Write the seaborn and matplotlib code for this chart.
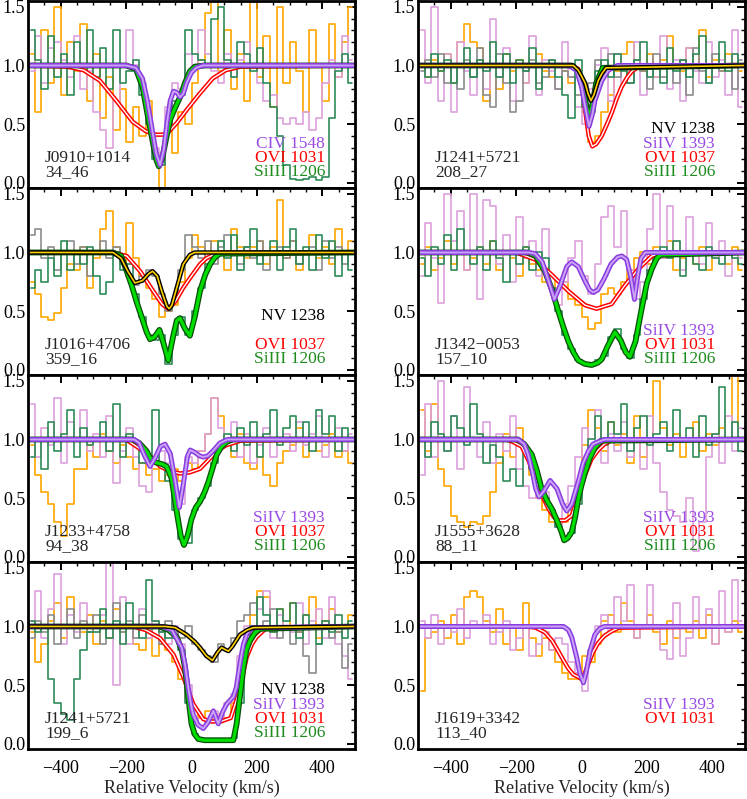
import numpy as np
import matplotlib
matplotlib.use("Agg")
import matplotlib.pyplot as plt
from matplotlib.ticker import MultipleLocator
import seaborn as sns

# velocity bin centres of the rebinned spectra (km/s)
vel_bins = np.arange(-490, 500, 20)

# ---------------- observed spectra (normalised flux per bin) ----------------
# J0910+1014  34_46
p1_ovi = [1.10, 0.60, 1.30, 0.85, 1.50, 0.75, 1.20, 0.95, 1.35, 0.70,
          1.10, 0.55, 0.90, 0.45, 0.80, 0.35, 0.65, 0.40, 0.70, 0.25,
          -0.05, 0.45, 0.25, 0.60, 0.50, 0.85, 1.05, 1.45, 1.55, 0.95,
          1.30, 0.80, 1.10, 0.70, 1.60, 0.90, 1.25, 0.65, 1.50, 0.85,
          1.20, 0.95, 0.60, 1.30, 1.00, 0.70, 1.35, 0.90, 1.20, 1.50]
p1_civ = [0.95, 1.25, 0.85, 1.15, 1.20, 1.05, 0.90, 1.25, 0.80, 0.95,
          0.60, 0.45, 0.30, 0.70, 1.00, 1.30, 1.00, 0.85, 0.55, 0.30,
          0.15, 0.65, 0.85, 0.80, 1.10, 1.00, 1.30, 1.10, 0.95, 0.85,
          1.10, 0.90, 1.05, 1.20, 1.00, 0.85, 0.70, 0.75, 0.55, 0.50,
          0.55, 0.50, 0.60, 0.45, 0.55, 0.85, 1.05, 0.90, 1.25, 1.05]
p1_siiii = [1.30, 1.05, 0.80, 1.25, 0.90, 1.10, 0.75, 1.20, 0.95, 1.30,
            0.90, 1.15, 0.80, 1.30, 0.85, 0.95, 1.05, 0.75, 0.50, 0.20,
            0.15, 0.45, 0.70, 0.75, 1.30, 1.10, 1.05, 1.00, 1.40, 1.50,
            1.05, 0.90, 1.20, 1.10, 0.95, 1.15, 0.85, 0.65, 0.40, 0.15,
            0.03, 0.02, 0.03, 0.05, 0.02, 0.05, 0.55, 0.95, 1.10, 0.85]

# J1241+5721  208_27
p2_nv = [0.95, 1.05, 0.90, 1.10, 0.85, 1.00, 0.80, 1.05, 0.90, 1.15,
         0.75, 0.65, 1.10, 0.85, 0.60, 0.70, 0.95, 1.05, 0.85, 0.90,
         1.05, 0.80, 0.95, 0.90, 0.75, 0.70, 0.85, 1.05, 0.95, 1.10,
         0.90, 1.00, 0.85, 1.05, 0.95, 0.80, 1.10, 0.90, 1.00, 0.85,
         1.05, 0.75, 1.15, 0.95, 0.85, 1.10, 0.95, 1.00, 0.80, 1.05]
p2_siiv = [1.30, 0.85, 1.50, 0.70, 1.10, 0.60, 1.20, 0.95, 0.75, 1.05,
           0.80, 1.40, 0.90, 1.15, 0.70, 1.00, 0.85, 1.25, 0.75, 1.05,
           0.95, 0.80, 1.20, 0.90, 0.65, 0.50, 0.80, 1.00, 1.15, 0.70,
           1.10, 0.85, 0.95, 1.20, 0.75, 1.00, 0.90, 1.25, 0.80, 1.05,
           0.70, 1.15, 0.95, 0.85, 1.20, 0.90, 1.05, 0.75, 1.30, 0.65]
p2_ovi = [1.00, 0.90, 1.05, 0.95, 1.10, 0.85, 1.20, 1.35, 1.20, 1.15,
          0.70, 1.00, 0.80, 1.10, 0.95, 1.05, 0.85, 1.00, 1.10, 0.95,
          0.90, 1.00, 0.95, 0.85, 0.90, 0.60, 0.35, 0.40, 0.60, 0.75,
          0.95, 1.10, 1.20, 1.00, 0.95, 1.10, 0.90, 1.05, 1.25, 1.00,
          0.95, 1.15, 1.00, 1.30, 0.90, 1.05, 0.95, 1.10, 1.00, 0.95]
p2_siiii = [1.00, 0.90, 1.10, 0.95, 1.05, 0.85, 1.00, 1.15, 0.90, 1.05,
            0.95, 1.20, 0.90, 1.10, 0.85, 1.05, 0.95, 1.15, 0.80, 1.00,
            1.05, 0.90, 0.75, 0.55, 1.05, 0.65, 0.60, 0.95, 1.05, 0.90,
            1.10, 0.95, 0.85, 1.05, 1.20, 0.90, 1.00, 0.85, 1.15, 0.95,
            1.05, 0.90, 1.10, 1.25, 0.85, 1.00, 1.20, 0.95, 1.10, 1.00]

# J1016+4706  359_16
p3_nv = [1.15, 1.20, 0.95, 1.05, 0.85, 1.00, 1.10, 0.90, 1.05, 0.80,
         1.00, 1.10, 0.95, 1.05, 0.90, 0.80, 0.72, 0.80, 0.85, 0.80,
         0.65, 0.50, 0.60, 0.85, 1.15, 1.05, 0.95, 1.10, 0.90, 1.05,
         1.15, 1.00, 0.90, 1.05, 0.95, 1.10, 0.85, 1.00, 1.05, 0.95,
         1.10, 0.90, 1.00, 1.05, 0.85, 1.10, 0.95, 1.05, 0.90, 1.00]
p3_ovi = [0.75, 0.65, 0.45, 0.42, 0.48, 0.70, 0.90, 0.85, 1.05, 0.70,
          0.95, 1.20, 1.35, 1.05, 0.90, 1.25, 0.95, 0.80, 0.70, 0.60,
          0.45, 0.50, 0.55, 0.75, 0.95, 1.15, 1.05, 0.90, 1.10, 1.00,
          0.85, 1.20, 1.05, 0.95, 1.05, 1.10, 0.90, 1.05, 1.45, 0.95,
          1.10, 0.85, 1.00, 1.15, 0.95, 1.05, 0.90, 1.20, 1.00, 1.10]
p3_siiii = [0.70, 0.85, 0.75, 0.95, 0.80, 1.10, 0.85, 1.00, 0.90, 1.05,
            0.80, 0.65, 0.75, 1.00, 0.85, 0.90, 0.65, 0.45, 0.30, 0.25,
            0.30, 0.05, 0.30, 0.45, 0.30, 0.50, 0.70, 0.90, 1.00, 1.10,
            0.95, 1.15, 0.85, 1.05, 1.20, 0.90, 1.00, 1.10, 0.85, 1.05,
            1.20, 0.90, 1.05, 0.85, 1.15, 0.95, 1.10, 0.80, 1.00, 0.85]

# J1342-0053  157_10
p4_siiv = [0.80, 1.25, 0.95, 0.57, 1.50, 1.10, 1.35, 0.85, 1.50, 0.60,
           1.45, 1.40, 0.90, 1.15, 0.75, 1.30, 0.95, 1.10, 0.80, 1.20,
           0.70, 0.55, 0.75, 0.95, 1.10, 0.80, 0.65, 0.90, 1.30, 1.40,
           1.05, 1.35, 0.85, 0.60, 0.75, 1.20, 1.50, 0.95, 1.40, 1.10,
           0.85, 1.30, 1.00, 0.90, 1.25, 0.95, 1.10, 0.80, 1.00, 0.95]
p4_ovi = [0.90, 1.05, 0.85, 0.95, 1.10, 0.90, 1.00, 0.85, 0.95, 1.05,
          0.90, 1.10, 0.85, 1.00, 0.95, 0.80, 1.05, 0.90, 0.85, 0.75,
          0.80, 0.70, 0.75, 0.60, 0.55, 0.45, 0.35, 0.40, 0.65, 0.70,
          0.65, 0.75, 0.85, 0.95, 1.00, 0.90, 1.05, 0.95, 1.10, 0.85,
          0.95, 1.00, 0.90, 1.05, 0.85, 0.95, 1.00, 0.90, 1.05, 0.85]
p4_siiii = [0.95, 0.80, 1.05, 0.90, 1.15, 0.85, 1.20, 1.00, 0.90, 1.05,
            0.85, 1.10, 0.95, 0.75, 1.00, 0.90, 1.05, 0.85, 1.00, 0.95,
            0.70, 0.50, 0.30, 0.18, 0.08, 0.05, 0.03, 0.08, 0.12, 0.28,
            0.35, 0.18, 0.10, 0.30, 0.60, 0.85, 0.95, 1.05, 0.95, 1.10,
            0.80, 1.00, 0.90, 0.85, 1.05, 0.95, 0.90, 1.00, 0.95, 0.90]

# J1233+4758  94_38
p5_siiv = [1.30, 0.85, 1.10, 0.95, 1.35, 0.80, 1.15, 1.00, 1.25, 0.90,
           1.05, 0.85, 1.20, 0.63, 0.90, 1.10, 0.85, 0.60, 0.55, 0.80,
           0.90, 0.80, 0.50, 0.45, 0.85, 0.80, 0.90, 1.05, 1.35, 1.10,
           0.95, 1.15, 0.85, 1.05, 0.80, 0.95, 1.10, 0.85, 1.00, 1.05,
           0.90, 1.15, 0.95, 1.05, 1.20, 0.85, 1.00, 1.10, 0.90, 1.05]
p5_ovi = [0.95, 0.70, 0.55, 0.45, 0.30, 0.18, 0.45, 0.75, 0.75, 0.95,
          0.85, 1.05, 0.90, 0.80, 0.95, 0.85, 0.75, 0.80, 0.70, 0.75,
          0.65, 0.70, 0.75, 0.65, 0.80, 0.75, 0.90, 1.05, 1.35, 1.20,
          0.95, 0.85, 1.05, 0.80, 0.75, 0.85, 0.70, 0.60, 0.80, 0.90,
          0.95, 1.10, 0.85, 1.00, 0.90, 0.95, 1.05, 0.85, 0.90, 0.80]
p5_siiii = [0.85, 1.00, 0.75, 1.15, 0.90, 1.05, 1.25, 0.85, 1.10, 0.95,
            1.00, 1.15, 0.90, 1.30, 0.85, 1.05, 0.95, 0.80, 0.85, 1.25,
            0.80, 0.65, 0.40, 0.15, 0.12, 0.40, 0.50, 0.60, 0.80, 0.95,
            1.05, 0.90, 1.10, 0.95, 1.15, 0.85, 1.05, 1.25, 0.95, 1.10,
            1.20, 1.00, 1.15, 0.90, 1.25, 1.05, 1.20, 0.90, 1.10, 1.00]

# J1555+3628  88_11
p6_siiv = [0.70, 1.30, 0.85, 1.50, 0.90, 1.20, 0.75, 1.45, 1.00, 0.85,
           1.15, 0.80, 1.05, 0.90, 1.20, 0.75, 0.60, 0.50, 0.65, 0.55,
           0.40, 0.25, 0.45, 0.60, 0.85, 1.10, 0.90, 1.25, 0.80, 1.05,
           0.90, 1.15, 0.85, 1.00, 0.75, 1.20, 0.80, 0.55, 0.40, 0.35,
           0.30, 0.50, 0.05, 0.30, 0.85, 1.05, 0.80, 1.20, 0.90, 1.10]
p6_ovi = [1.25, 0.90, 1.30, 0.75, 0.60, 0.35, 0.30, 0.25, 0.30, 0.28,
          0.35, 0.55, 0.80, 1.05, 0.85, 1.10, 0.90, 0.70, 0.50, 0.40,
          0.30, 0.28, 0.30, 0.40, 0.60, 0.95, 1.25, 1.10, 0.90, 1.15,
          0.95, 1.05, 0.80, 1.20, 0.85, 1.00, 1.50, 1.10, 0.95, 1.05,
          0.85, 1.00, 1.15, 0.90, 1.05, 0.95, 1.10, 1.00, 1.55, 1.00]
p6_siiii = [1.00, 0.85, 1.15, 1.05, 0.90, 1.20, 1.10, 0.95, 1.30, 1.05,
            0.80, 0.95, 0.85, 0.65, 0.75, 0.60, 0.90, 0.75, 0.55, 0.50,
            0.40, 0.25, 0.15, 0.20, 0.45, 0.75, 1.00, 1.20, 0.95, 1.15,
            1.05, 1.30, 0.90, 1.10, 1.20, 0.95, 1.05, 1.15, 0.90, 1.25,
            1.00, 1.10, 0.85, 1.20, 0.95, 1.05, 1.45, 1.00, 1.15, 0.90]

# J1241+5721  199_6
p7_nv = [0.90, 1.05, 0.95, 1.10, 0.85, 1.00, 1.15, 0.90, 1.05, 0.95,
         1.10, 0.85, 1.00, 1.20, 0.95, 1.05, 0.90, 1.10, 0.95, 1.00,
         0.85, 1.05, 0.95, 0.90, 1.00, 0.85, 0.80, 0.75, 0.70, 0.85,
         0.80, 0.90, 1.05, 1.10, 1.20, 0.95, 1.05, 1.15, 0.90, 1.00,
         0.85, 0.95, 0.75, 0.60, 0.85, 1.00, 0.90, 0.95, 0.65, 0.85]
p7_siiv = [1.05, 1.30, 0.90, 1.15, 1.45, 0.85, 1.10, 0.95, 1.20, 1.00,
           1.00, 1.10, 1.55, 0.50, 1.25, 0.85, 1.00, 1.15, 0.90, 1.05,
           0.95, 0.85, 1.00, 0.85, 0.50, 0.22, 0.15, 0.20, 0.28, 0.20,
           0.35, 0.42, 0.75, 1.00, 0.95, 1.15, 1.30, 0.90, 1.10, 1.00,
           0.95, 1.20, 0.85, 1.05, 1.15, 0.90, 1.25, 0.85, 0.75, 0.55]
p7_ovi = [0.95, 0.70, 0.85, 1.05, 1.20, 0.90, 1.25, 1.00, 0.95, 1.10,
          0.85, 1.05, 0.90, 1.15, 0.95, 1.00, 0.85, 0.80, 0.90, 0.75,
          0.85, 0.80, 0.70, 0.55, 0.40, 0.30, 0.22, 0.28, 0.20, 0.25,
          0.22, 0.35, 0.60, 0.85, 1.10, 1.30, 1.25, 0.95, 1.15, 1.00,
          1.20, 0.95, 1.10, 1.25, 0.90, 1.05, 1.15, 0.95, 1.00, 1.10]
p7_siiii = [1.05, 0.95, 1.00, 0.55, 0.35, 0.25, 0.20, 0.55, 0.80, 0.95,
            0.95, 1.15, 0.90, 1.05, 0.85, 1.20, 1.00, 0.90, 1.40, 1.05,
            0.95, 0.90, 0.90, 0.80, 0.35, 0.08, 0.03, 0.02, 0.03, 0.04,
            0.03, 0.05, 0.35, 0.80, 1.00, 1.25, 1.10, 0.95, 1.15, 1.05,
            1.20, 0.90, 1.10, 1.00, 0.85, 1.05, 0.95, 1.10, 0.90, 1.05]

# J1619+3342  113_40
p8_siiv = [1.05, 0.90, 1.10, 0.85, 1.00, 0.95, 1.15, 0.90, 1.05, 1.00,
           1.10, 0.85, 0.95, 1.05, 0.80, 0.90, 1.00, 0.75, 0.85, 0.95,
           0.80, 0.90, 0.85, 0.70, 0.60, 0.45, 0.80, 1.00, 1.10, 0.95,
           1.25, 1.05, 1.35, 0.90, 1.00, 1.35, 1.00, 0.80, 0.72, 1.20,
           0.75, 0.90, 1.25, 1.00, 1.15, 0.85, 1.30, 0.95, 1.40, 1.05]
p8_ovi = [0.45, 0.90, 0.95, 1.05, 0.90, 1.10, 0.85, 1.25, 1.30, 1.25,
          1.05, 0.95, 1.15, 0.85, 1.00, 0.80, 1.20, 0.90, 0.75, 0.90,
          0.80, 0.70, 0.60, 0.55, 0.55, 0.75, 0.70, 0.85, 1.05, 1.10,
          0.95, 1.20, 1.05, 0.90, 1.00, 1.10, 0.95, 0.85, 1.05, 0.90,
          1.00, 0.95, 1.05, 0.90, 1.10, 0.85, 1.00, 0.95, 1.05, 0.95]

# ---------------- model fits (velocity, flux nodes) ----------------
f1_ovi_v = [-500, -380, -330, -280, -230, -180, -140, -110, -90, -75, -45, -15, 25, 65, 105, 150, 500]
f1_ovi_f = [1.0, 0.99, 0.96, 0.87, 0.70, 0.52, 0.44, 0.41, 0.41, 0.42, 0.51, 0.62, 0.76, 0.89, 0.96, 0.99, 1.0]
f1_siiii_v = [-500, -200, -170, -150, -135, -120, -108, -100, -90, -78, -65, -50, -35, -20, -5, 10, 40, 500]
f1_siiii_f = [1.0, 1.0, 0.97, 0.82, 0.59, 0.37, 0.20, 0.14, 0.20, 0.37, 0.54, 0.64, 0.73, 0.85, 0.95, 0.99, 1.0, 1.0]
f1_civ_v = [-500, -200, -170, -150, -135, -120, -108, -96, -85, -75, -65, -55, -45, -35, -25, -15, 0, 15, 35, 500]
f1_civ_f = [1.0, 1.0, 0.98, 0.89, 0.70, 0.45, 0.25, 0.15, 0.28, 0.51, 0.70, 0.78, 0.77, 0.73, 0.76, 0.85, 0.94, 0.98, 1.0, 1.0]

f2_nv_v = [-500, -25, -10, 0, 11, 20, 29, 38, 51, 62, 75, 500]
f2_nv_f = [1.0, 1.0, 0.96, 0.91, 0.85, 0.76, 0.70, 0.75, 0.87, 0.93, 0.98, 1.0]
f2_siiv_v = [-500, -40, -15, 0, 11, 23, 33, 41, 62, 82, 110, 500]
f2_siiv_f = [1.0, 1.0, 0.96, 0.82, 0.65, 0.48, 0.58, 0.70, 0.87, 0.96, 1.0, 1.0]
f2_siiii_v = [-500, -30, -10, 5, 15, 23, 32, 45, 65, 500]
f2_siiii_f = [1.0, 1.0, 0.95, 0.80, 0.65, 0.55, 0.65, 0.85, 0.98, 1.0]
f2_ovi_v = [-500, -30, -10, 0, 11, 22, 33, 45, 62, 78, 93, 108, 123, 140, 154, 175, 500]
f2_ovi_f = [1.0, 1.0, 0.97, 0.88, 0.62, 0.40, 0.31, 0.33, 0.40, 0.50, 0.60, 0.72, 0.82, 0.90, 0.95, 0.99, 1.0]

f3_nv_v = [-500, -240, -215, -195, -173, -150, -130, -119, -105, -90, -75, -68, -60, -45, -25, -5, 10, 500]
f3_nv_f = [1.0, 1.0, 0.95, 0.84, 0.74, 0.76, 0.82, 0.84, 0.80, 0.66, 0.54, 0.52, 0.55, 0.70, 0.90, 0.98, 1.0, 1.0]
f3_siiii_v = [-500, -240, -215, -198, -183, -168, -150, -137, -127, -113, -98, -85, -71, -55, -45, -35,
              -20, -5, 10, 26, 42, 57, 72, 87, 500]
f3_siiii_f = [1.0, 1.0, 0.97, 0.84, 0.72, 0.58, 0.43, 0.32, 0.26, 0.28, 0.34, 0.22, 0.08, 0.30, 0.42, 0.44,
              0.35, 0.29, 0.45, 0.67, 0.81, 0.90, 0.96, 0.99, 1.0]
f3_ovi_v = [-500, -240, -198, -157, -117, -90, -71, -50, -25, 0, 26, 45, 67, 90, 500]
f3_ovi_f = [1.0, 1.0, 0.97, 0.84, 0.67, 0.56, 0.52, 0.58, 0.70, 0.80, 0.90, 0.95, 0.98, 1.0, 1.0]

f4_siiv_v = [-500, -160, -142, -120, -100, -83, -65, -45, -30, -10, 10, 25, 36, 50, 70, 90, 110, 123,
             138, 150, 162, 172, 182, 195, 500]
f4_siiv_f = [1.0, 1.0, 0.99, 0.92, 0.75, 0.60, 0.72, 0.88, 0.92, 0.88, 0.76, 0.68, 0.66, 0.68, 0.78, 0.90,
             0.96, 0.97, 0.94, 0.80, 0.60, 0.80, 0.95, 1.0, 1.0]
f4_ovi_v = [-500, -200, -142, -91, -40, 11, 46, 92, 133, 174, 215, 250, 500]
f4_ovi_f = [1.0, 1.0, 0.94, 0.81, 0.67, 0.55, 0.52, 0.56, 0.72, 0.86, 0.97, 1.0, 1.0]
f4_siiii_v = [-500, -165, -140, -112, -90, -71, -55, -40, -25, -10, 10, 31, 50, 62, 80, 102, 120, 135,
              148, 165, 184, 200, 215, 230, 242, 500]
f4_siiii_f = [1.0, 1.0, 0.97, 0.84, 0.68, 0.50, 0.36, 0.24, 0.15, 0.08, 0.05, 0.04, 0.06, 0.09, 0.20, 0.32,
              0.25, 0.15, 0.11, 0.24, 0.52, 0.74, 0.86, 0.95, 0.98, 1.0]

f5_siiv_v = [-500, -175, -160, -145, -127, -110, -95, -81, -65, -50, -37, -25, -12, -4, 10, 25, 36, 50,
             65, 87, 110, 500]
f5_siiv_f = [1.0, 1.0, 0.97, 0.87, 0.77, 0.85, 0.94, 0.96, 0.88, 0.65, 0.42, 0.62, 0.86, 0.91, 0.89, 0.86,
             0.85, 0.86, 0.90, 0.97, 1.0, 1.0]
f5_siiii_v = [-500, -180, -160, -137, -122, -105, -90, -76, -61, -45, -33, -23, -12, 0, 13, 26, 40, 52,
              65, 77, 92, 108, 125, 500]
f5_siiii_f = [1.0, 1.0, 0.97, 0.90, 0.82, 0.80, 0.79, 0.77, 0.67, 0.38, 0.18, 0.10, 0.18, 0.32, 0.42, 0.47,
              0.55, 0.64, 0.76, 0.87, 0.94, 0.98, 1.0, 1.0]
f5_ovi_v = [-500, -200, -147, -120, -96, -65, -35, -5, 26, 50, 77, 105, 128, 150, 500]
f5_ovi_f = [1.0, 1.0, 0.90, 0.84, 0.77, 0.73, 0.71, 0.72, 0.75, 0.82, 0.90, 0.95, 0.97, 0.99, 1.0]

f6_siiv_v = [-500, -193, -175, -163, -150, -140, -130, -115, -96, -75, -58, -45, -30, -10, 5, 21, 35, 51, 70, 500]
f6_siiv_f = [1.0, 1.0, 0.96, 0.87, 0.72, 0.58, 0.51, 0.56, 0.65, 0.58, 0.45, 0.39, 0.45, 0.64, 0.80, 0.90,
             0.96, 0.98, 1.0, 1.0]
f6_siiii_v = [-500, -195, -175, -152, -137, -122, -106, -91, -75, -61, -53, -42, -30, -20, -10, 0, 11, 25,
              41, 60, 500]
f6_siiii_f = [1.0, 1.0, 0.96, 0.87, 0.74, 0.58, 0.48, 0.41, 0.31, 0.21, 0.14, 0.16, 0.21, 0.33, 0.49, 0.61,
              0.72, 0.84, 0.93, 0.99, 1.0]
f6_ovi_v = [-500, -230, -210, -183, -162, -142, -120, -101, -85, -71, -50, -30, -10, 11, 30, 51, 70, 90, 500]
f6_ovi_f = [1.0, 1.0, 0.98, 0.94, 0.82, 0.67, 0.52, 0.41, 0.34, 0.31, 0.31, 0.35, 0.52, 0.70, 0.83, 0.91,
            0.96, 0.99, 1.0]

f7_nv_v = [-500, -80, -50, -15, 10, 26, 45, 64, 80, 92, 105, 113, 125, 148, 170, 189, 500]
f7_nv_f = [1.0, 1.0, 0.99, 0.93, 0.87, 0.82, 0.75, 0.71, 0.78, 0.82, 0.80, 0.79, 0.83, 0.93, 0.97, 0.99, 1.0]
f7_siiv_v = [-500, -90, -60, -30, -20, -10, 0, 5, 20, 36, 50, 67, 75, 82, 95, 108, 128, 137, 143, 151,
             159, 170, 185, 500]
f7_siiv_f = [1.0, 1.0, 0.97, 0.82, 0.68, 0.48, 0.31, 0.25, 0.16, 0.13, 0.18, 0.28, 0.22, 0.17, 0.27, 0.34,
             0.40, 0.48, 0.59, 0.73, 0.85, 0.94, 0.99, 1.0]
f7_siiii_v = [-500, -100, -70, -45, -30, -20, -10, 0, 10, 21, 40, 67, 100, 128, 138, 148, 159, 168, 179,
              195, 210, 500]
f7_siiii_f = [1.0, 1.0, 0.97, 0.91, 0.80, 0.65, 0.40, 0.17, 0.08, 0.04, 0.03, 0.03, 0.03, 0.03, 0.17, 0.40,
              0.65, 0.80, 0.88, 0.95, 0.98, 1.0]
f7_ovi_v = [-500, -180, -140, -96, -55, -25, 5, 36, 60, 90, 120, 143, 156, 169, 185, 199, 230, 500]
f7_ovi_f = [1.0, 1.0, 0.97, 0.90, 0.76, 0.57, 0.34, 0.21, 0.19, 0.19, 0.22, 0.42, 0.58, 0.74, 0.85, 0.91,
            0.99, 1.0]

f8_siiv_v = [-500, -55, -40, -30, -15, -5, 6, 15, 26, 41, 55, 70, 500]
f8_siiv_f = [1.0, 1.0, 0.97, 0.91, 0.74, 0.60, 0.52, 0.62, 0.79, 0.93, 0.98, 1.0, 1.0]
f8_ovi_v = [-500, -170, -140, -112, -90, -71, -55, -40, -25, -10, 0, 10, 21, 35, 51, 70, 92, 115, 500]
f8_ovi_f = [1.0, 1.0, 0.99, 0.95, 0.88, 0.79, 0.71, 0.64, 0.59, 0.57, 0.55, 0.60, 0.68, 0.78, 0.86, 0.92,
            0.96, 0.99, 1.0]

# ---------------- styles ----------------
SPEC_COLOR = {"ovi": "#ffa500", "siiv": "#dda0dd", "nv": "#8c8c8c", "siiii": "#2e8b57"}
# outer colour, inner colour, outer width, inner width
FIT_STYLE = {"ovi": ("#ff0000", "#ffffff", 3.2, 1.0),
             "siiii": ("#0a4d0a", "#00dd00", 4.2, 2.4),
             "siiv": ("#8a3be0", "#c9a3f5", 3.6, 1.4),
             "nv": ("#000000", "#ffd000", 3.2, 1.2)}
LABEL_COLOR = {"nv": "black", "siiv": "#9a4be6", "ovi": "#ff0000", "siiii": "#1e8b1e"}

panels = [
    dict(row=0, col=0, name="J0910+1014", sid="34_46",
         spec=[("ovi", p1_ovi), ("siiv", p1_civ), ("siiii", p1_siiii)],
         fits=[("ovi", f1_ovi_v, f1_ovi_f), ("siiii", f1_siiii_v, f1_siiii_f), ("siiv", f1_civ_v, f1_civ_f)],
         labels=[(2, "CIV 1548", "siiv"), (1, "OVI 1031", "ovi"), (0, "SiIII 1206", "siiii")]),
    dict(row=0, col=1, name="J1241+5721", sid="208_27",
         spec=[("ovi", p2_ovi), ("siiv", p2_siiv), ("nv", p2_nv), ("siiii", p2_siiii)],
         fits=[("ovi", f2_ovi_v, f2_ovi_f), ("siiii", f2_siiii_v, f2_siiii_f), ("siiv", f2_siiv_v, f2_siiv_f),
               ("nv", f2_nv_v, f2_nv_f)],
         labels=[(3, "NV 1238", "nv"), (2, "SiIV 1393", "siiv"), (1, "OVI 1037", "ovi"), (0, "SiIII 1206", "siiii")]),
    dict(row=1, col=0, name="J1016+4706", sid="359_16",
         spec=[("ovi", p3_ovi), ("nv", p3_nv), ("siiii", p3_siiii)],
         fits=[("ovi", f3_ovi_v, f3_ovi_f), ("siiii", f3_siiii_v, f3_siiii_f), ("nv", f3_nv_v, f3_nv_f)],
         labels=[(3, "NV 1238", "nv"), (1, "OVI 1037", "ovi"), (0, "SiIII 1206", "siiii")]),
    dict(row=1, col=1, name="J1342\u22120053", sid="157_10",
         spec=[("ovi", p4_ovi), ("siiv", p4_siiv), ("siiii", p4_siiii)],
         fits=[("ovi", f4_ovi_v, f4_ovi_f), ("siiii", f4_siiii_v, f4_siiii_f), ("siiv", f4_siiv_v, f4_siiv_f)],
         labels=[(2, "SiIV 1393", "siiv"), (1, "OVI 1031", "ovi"), (0, "SiIII 1206", "siiii")]),
    dict(row=2, col=0, name="J1233+4758", sid="94_38",
         spec=[("ovi", p5_ovi), ("siiv", p5_siiv), ("siiii", p5_siiii)],
         fits=[("ovi", f5_ovi_v, f5_ovi_f), ("siiii", f5_siiii_v, f5_siiii_f), ("siiv", f5_siiv_v, f5_siiv_f)],
         labels=[(2, "SiIV 1393", "siiv"), (1, "OVI 1037", "ovi"), (0, "SiIII 1206", "siiii")]),
    dict(row=2, col=1, name="J1555+3628", sid="88_11",
         spec=[("ovi", p6_ovi), ("siiv", p6_siiv), ("siiii", p6_siiii)],
         fits=[("ovi", f6_ovi_v, f6_ovi_f), ("siiii", f6_siiii_v, f6_siiii_f), ("siiv", f6_siiv_v, f6_siiv_f)],
         labels=[(2, "SiIV 1393", "siiv"), (1, "OVI 1031", "ovi"), (0, "SiIII 1206", "siiii")]),
    dict(row=3, col=0, name="J1241+5721", sid="199_6",
         spec=[("ovi", p7_ovi), ("siiv", p7_siiv), ("nv", p7_nv), ("siiii", p7_siiii)],
         fits=[("ovi", f7_ovi_v, f7_ovi_f), ("siiii", f7_siiii_v, f7_siiii_f), ("siiv", f7_siiv_v, f7_siiv_f),
               ("nv", f7_nv_v, f7_nv_f)],
         labels=[(3, "NV 1238", "nv"), (2, "SiIV 1393", "siiv"), (1, "OVI 1031", "ovi"), (0, "SiIII 1206", "siiii")]),
    dict(row=3, col=1, name="J1619+3342", sid="113_40",
         spec=[("ovi", p8_ovi), ("siiv", p8_siiv)],
         fits=[("ovi", f8_ovi_v, f8_ovi_f), ("siiv", f8_siiv_v, f8_siiv_f)],
         labels=[(2, "SiIV 1393", "siiv"), (1, "OVI 1031", "ovi")]),
]

sns.set_style("white")
plt.rcParams["font.family"] = ["Liberation Serif", "DejaVu Serif"]
plt.rcParams["axes.unicode_minus"] = True

fig = plt.figure(figsize=(7.47, 7.99), dpi=100)

W, H = 747.0, 799.0
col_x = [28, 418]
row_top = [1, 188, 375, 562]
pw, ph = 327, 187
FS = 12.5


def slot_y(slot):
    return 0.085 + 0.076 * slot


for p in panels:
    x0 = col_x[p["col"]]
    y0 = row_top[p["row"]]
    ax = fig.add_axes([x0 / W, 1 - (y0 + ph) / H, pw / W, ph / H])

    for kind, flux in p["spec"]:
        sns.lineplot(x=vel_bins, y=flux, ax=ax, color=SPEC_COLOR[kind], lw=1.2,
                     drawstyle="steps-mid", estimator=None, sort=False, legend=False)

    for kind, v, f in p["fits"]:
        outer, inner, lwo, lwi = FIT_STYLE[kind]
        sns.lineplot(x=v, y=f, ax=ax, color=outer, lw=lwo, estimator=None, sort=False,
                     legend=False, solid_joinstyle="round", solid_capstyle="round")
        sns.lineplot(x=v, y=f, ax=ax, color=inner, lw=lwi, estimator=None, sort=False,
                     legend=False, solid_joinstyle="round", solid_capstyle="round")

    ax.text(0.052, slot_y(1), p["name"], transform=ax.transAxes, ha="left", va="center", fontsize=FS)
    ax.text(0.052, slot_y(0), p["sid"], transform=ax.transAxes, ha="left", va="center", fontsize=FS)
    for slot, txt, kind in p["labels"]:
        ax.text(0.908, slot_y(slot), txt, transform=ax.transAxes, ha="right", va="center",
                fontsize=FS, color=LABEL_COLOR[kind])

    ax.set_xlim(-500, 500)
    ax.set_ylim(-0.045, 1.55)
    ax.set_xticks([-400, -200, 0, 200, 400])
    ax.set_yticks([0.0, 0.5, 1.0, 1.5])
    ax.xaxis.set_minor_locator(MultipleLocator(50))
    ax.yaxis.set_minor_locator(MultipleLocator(0.1))
    ax.yaxis.set_major_formatter(matplotlib.ticker.FormatStrFormatter("%.1f"))
    ax.tick_params(which="both", direction="in", top=True, right=True, colors="black")
    ax.tick_params(which="major", length=6, width=1.4, labelsize=13)
    ax.tick_params(which="minor", length=3, width=1.0)
    ax.tick_params(axis="y", pad=2)
    ax.tick_params(axis="x", pad=8)
    for s in ax.spines.values():
        s.set_linewidth(2.0)
        s.set_color("black")
    ax.set_ylabel("")
    if p["row"] == 3:
        ax.set_xlabel("Relative Velocity (km/s)", fontsize=13, labelpad=2)
    else:
        ax.set_xlabel("")
        ax.tick_params(axis="x", labelbottom=False)

fig.savefig("out.png", dpi=100)
